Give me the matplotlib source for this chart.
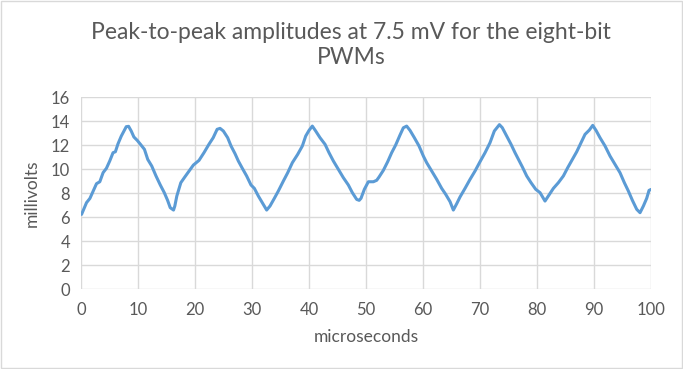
import matplotlib.pyplot as plt
from matplotlib.patches import Rectangle

# values
us = [0.1, 0.97, 1.56, 2.14, 2.72, 3.3, 3.88, 4.46, 5.04, 5.62, 6.03, 6.49, 7.07, 7.54, 7.94,
      8.35, 8.81, 9.28, 9.86, 10.43, 11.13, 11.71, 12.41, 13.16, 13.91, 14.61, 15.19, 15.65,
      16.23, 16.46, 16.81, 17.51, 18.2, 18.96, 19.71, 20.7, 21.57, 22.44, 23.19, 23.88, 24.39,
      24.97, 25.73, 26.32, 27.02, 27.6, 28.3, 29.06, 29.82, 30.41, 31.11, 31.81, 32.57, 33.16,
      33.92, 34.62, 35.5, 36.26, 37.08, 38.01, 38.83, 39.42, 40.0, 40.58, 41.17, 41.93, 42.81,
      43.51, 44.27, 45.15, 46.02, 46.9, 47.6, 48.36, 48.8, 49.12, 49.71, 50.41, 51.29, 51.87,
      52.28, 53.04, 53.8, 54.5, 55.2, 55.96, 56.55, 57.13, 57.72, 58.48, 59.3, 60.06, 60.64,
      61.52, 62.4, 63.27, 63.98, 64.74, 65.32, 65.91, 66.49, 67.37, 68.25, 69.12, 70.0, 70.88,
      71.75, 72.51, 73.4, 73.9, 74.68, 75.44, 76.14, 76.84, 77.43, 78.19, 78.95, 79.77, 80.53,
      81.4, 81.99, 82.87, 83.74, 84.62, 85.38, 86.2, 86.96, 87.72, 88.42, 89.18, 89.77, 90.35,
      91.05, 91.93, 92.81, 93.68, 94.56, 95.32, 96.02, 96.73, 97.49, 98.07, 98.66, 99.24,
      99.65, 100.0]
mv = [6.22, 7.2, 7.55, 8.17, 8.78, 8.94, 9.7, 10.06, 10.67, 11.36, 11.44, 12.1, 12.75, 13.17, 13.53,
      13.56, 13.17, 12.67, 12.39, 12.06, 11.64, 10.8, 10.25, 9.42, 8.67, 8.03, 7.39, 6.78,
      6.58, 6.92, 7.75, 8.86, 9.33, 9.83, 10.33, 10.72, 11.36, 12.06, 12.61, 13.31, 13.39,
      13.17, 12.61, 11.92, 11.28, 10.67, 10.06, 9.42, 8.67, 8.39, 7.75, 7.19, 6.58, 6.92,
      7.56, 8.17, 9.0, 9.69, 10.53, 11.22, 11.92, 12.75, 13.22, 13.58, 13.17, 12.61, 12.06,
      11.36, 10.67, 9.97, 9.28, 8.67, 8.03, 7.47, 7.39, 7.56, 8.31, 8.94, 8.94, 9.06,
      9.33, 9.89, 10.61, 11.36, 12.0, 12.83, 13.44, 13.58, 13.22, 12.61, 11.92, 11.08, 10.53,
      9.83, 9.14, 8.39, 7.89, 7.28, 6.58, 7.11, 7.67, 8.39, 9.14, 9.83, 10.61, 11.36,
      12.19, 13.17, 13.7, 13.45, 12.75, 12.06, 11.36, 10.72, 10.17, 9.42, 8.86, 8.31, 8.03,
      7.33, 7.75, 8.39, 8.86, 9.42, 10.11, 10.8, 11.44, 12.19, 12.89, 13.25, 13.64, 13.22,
      12.61, 11.92, 11.08, 10.39, 9.69, 8.86, 8.17, 7.39, 6.64, 6.36, 6.92, 7.56,
      8.22, 8.3]
x_ticks = [0, 10, 20, 30, 40, 50, 60, 70, 80, 90, 100]
y_ticks = [0, 2, 4, 6, 8, 10, 12, 14, 16]

plt.rcParams['font.family'] = ['Lato', 'DejaVu Sans']
grey = '#595959'

fig = plt.figure(figsize=(6.83, 3.69), dpi=100)
fig.patches.append(Rectangle((0.001, 0.002), 0.997, 0.995, transform=fig.transFigure,
                             fill=False, edgecolor='#d9d9d9', linewidth=1))
ax = fig.add_axes([0.1186, 0.2168, 0.8346, 0.5202])

ax.plot(us, mv, color='#5B9BD5', linewidth=2.2, solid_capstyle='round')

ax.set_xlim(0, 100)
ax.set_ylim(0, 16)
ax.set_xticks(x_ticks)
ax.set_yticks(y_ticks)
ax.grid(True, color='#d9d9d9', linewidth=1)
ax.set_axisbelow(True)
for s in ax.spines.values():
    s.set_visible(False)
ax.tick_params(length=0, labelcolor=grey, labelsize=12)
ax.tick_params(axis='x', pad=9)
ax.tick_params(axis='y', pad=8)

ax.set_xlabel('microseconds', color=grey, fontsize=12.5, labelpad=8)
ax.set_ylabel('millivolts', color=grey, fontsize=12.5, labelpad=8)
fig.text(0.514, 0.94, 'Peak-to-peak amplitudes at 7.5 mV for the eight-bit\nPWMs',
         ha='center', va='top', fontsize=16.5, color=grey, linespacing=1.25)

fig.savefig('out.png', dpi=100)
